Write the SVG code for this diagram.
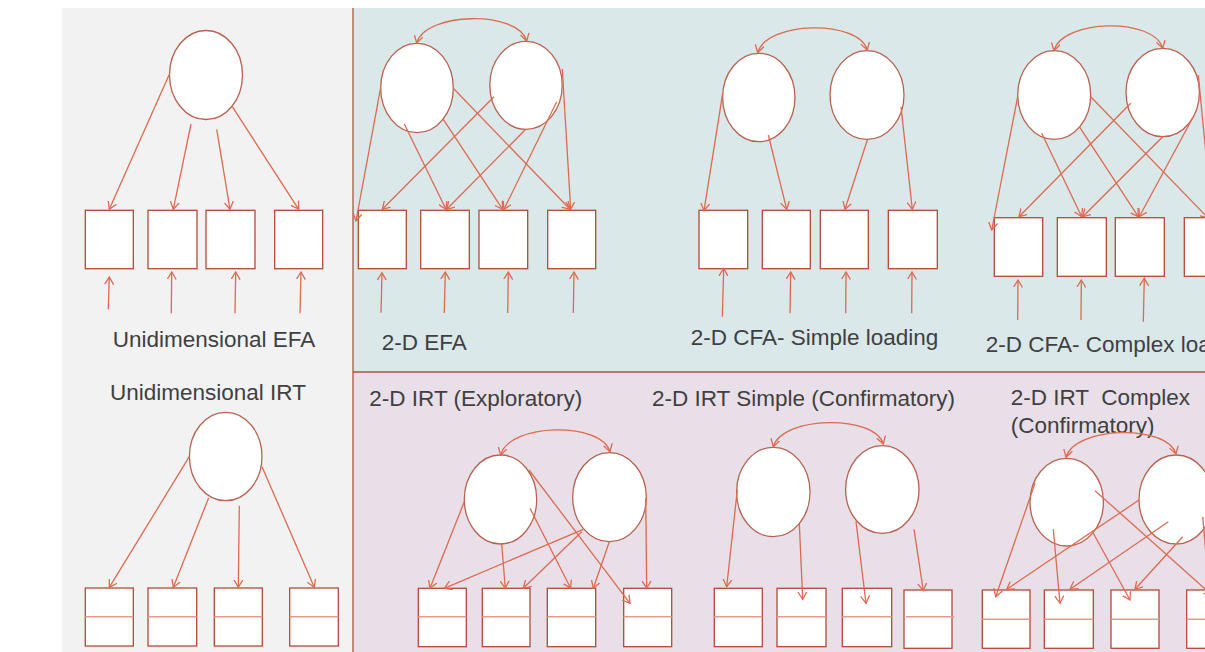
<svg xmlns="http://www.w3.org/2000/svg" width="1205" height="652" viewBox="0 0 1205 652">
<style>
.lat{fill:#fff;stroke:#b8624f;stroke-width:1.3}
.obs{fill:#fff;stroke:#b24a35;stroke-width:1.3}
.mid{stroke:#e8998a;stroke-width:1.6}
.c line,.c path{stroke:#de6a50;stroke-width:1.3;fill:none;marker-end:url(#ah)}
.c path.cov{marker-start:url(#ah)}
.lbl{font-family:"Liberation Sans",Arial,sans-serif;font-size:22.5px;fill:#404040}
.bd{stroke:#b0533d;stroke-width:1.3}
</style>
<defs>
<marker id="ah" viewBox="0 0 10 10" refX="7.5" refY="5" markerWidth="10" markerHeight="10" markerUnits="userSpaceOnUse" orient="auto-start-reverse">
<path d="M0,0.5 L7.5,5 L0,9.5" fill="none" stroke="#de6a50" stroke-width="1.3"/>
</marker>
</defs>
<rect width="1205" height="652" fill="#fff"/>
<g id="panels">
<rect x="62" y="8" width="291" height="644" fill="#f2f2f2"/>
<rect x="353" y="8" width="852" height="364" fill="#dae8ea"/>
<rect x="353" y="372" width="852" height="280" fill="#e8dfe8"/>
<line class="bd" x1="353" y1="8" x2="353" y2="652"/>
<line class="bd" x1="353" y1="372" x2="1205" y2="372"/>
</g>
<g id="labels" class="lbl">
<text x="112.7" y="347">Unidimensional EFA</text>
<text x="110" y="400">Unidimensional IRT</text>
<text x="381.7" y="350">2-D EFA</text>
<text x="690.7" y="345">2-D CFA- Simple loading</text>
<text x="985.7" y="352">2-D CFA- Complex loading</text>
<text x="369.3" y="406">2-D IRT (Exploratory)</text>
<text x="652" y="406">2-D IRT Simple (Confirmatory)</text>
<text x="1010.7" y="405" xml:space="preserve">2-D IRT  Complex</text>
<text x="1010.7" y="433">(Confirmatory)</text>
</g>
<g id="uefa-f"><ellipse class="lat" cx="206" cy="75" rx="36.5" ry="44.5"/></g>
<g id="uefa-i1"><rect class="obs" x="85.3" y="210.3" width="48" height="58.4"/></g>
<g id="uefa-i2"><rect class="obs" x="148" y="210.3" width="49" height="58.4"/></g>
<g id="uefa-i3"><rect class="obs" x="206" y="210.3" width="49" height="58.4"/></g>
<g id="uefa-i4"><rect class="obs" x="274.7" y="210.3" width="48" height="58.4"/></g>
<g id="uirt-f"><ellipse class="lat" cx="225.7" cy="456.5" rx="36.3" ry="44.2"/></g>
<g id="uirt-i1"><rect class="obs" x="85.3" y="588" width="48" height="58"/><line class="mid" x1="85.3" y1="616.7" x2="133.3" y2="616.7"/></g>
<g id="uirt-i2"><rect class="obs" x="148" y="588" width="48.7" height="58"/><line class="mid" x1="148" y1="616.7" x2="196.7" y2="616.7"/></g>
<g id="uirt-i3"><rect class="obs" x="214.3" y="588" width="48" height="58"/><line class="mid" x1="214.3" y1="616.7" x2="262.3" y2="616.7"/></g>
<g id="uirt-i4"><rect class="obs" x="289.7" y="588" width="48.6" height="58"/><line class="mid" x1="289.7" y1="616.7" x2="338.3" y2="616.7"/></g>
<g id="efa-f1"><ellipse class="lat" cx="417" cy="88" rx="36.3" ry="44.7"/></g>
<g id="efa-f2"><ellipse class="lat" cx="526" cy="85.3" rx="36.2" ry="44"/></g>
<g id="efa-i1"><rect class="obs" x="358.3" y="210.3" width="48" height="58.4"/></g>
<g id="efa-i2"><rect class="obs" x="420.7" y="210.3" width="48.6" height="58.4"/></g>
<g id="efa-i3"><rect class="obs" x="479" y="210.3" width="48.7" height="58.4"/></g>
<g id="efa-i4"><rect class="obs" x="547.7" y="210.3" width="48" height="58.4"/></g>
<g id="cfas-f1"><ellipse class="lat" cx="758.8" cy="97.5" rx="36.2" ry="44.2"/></g>
<g id="cfas-f2"><ellipse class="lat" cx="867" cy="95" rx="37" ry="44.3"/></g>
<g id="cfas-i1"><rect class="obs" x="699" y="210.3" width="48.7" height="58.4"/></g>
<g id="cfas-i2"><rect class="obs" x="762.3" y="210.3" width="48" height="58.4"/></g>
<g id="cfas-i3"><rect class="obs" x="820.3" y="210.3" width="48" height="58.4"/></g>
<g id="cfas-i4"><rect class="obs" x="888.3" y="210.3" width="49" height="58.4"/></g>
<g id="cfac-f1"><ellipse class="lat" cx="1054.2" cy="95" rx="36.5" ry="44.3"/></g>
<g id="cfac-f2"><ellipse class="lat" cx="1162.7" cy="92.5" rx="36.7" ry="44.2"/></g>
<g id="cfac-i1"><rect class="obs" x="994.3" y="217.7" width="48.4" height="58.6"/></g>
<g id="cfac-i2"><rect class="obs" x="1057.3" y="217.7" width="49" height="58.6"/></g>
<g id="cfac-i3"><rect class="obs" x="1115.3" y="217.7" width="49" height="58.6"/></g>
<g id="cfac-i4"><rect class="obs" x="1184.3" y="217.7" width="48" height="58.6"/></g>
<g id="irte-f1"><ellipse class="lat" cx="500.5" cy="499.5" rx="36.2" ry="44.5"/></g>
<g id="irte-f2"><ellipse class="lat" cx="609.5" cy="497.2" rx="36.8" ry="44.5"/></g>
<g id="irte-i1"><rect class="obs" x="418.3" y="588.3" width="48" height="58.4"/><line class="mid" x1="418.3" y1="616.7" x2="466.3" y2="616.7"/></g>
<g id="irte-i2"><rect class="obs" x="482.3" y="588.3" width="47.7" height="58.4"/><line class="mid" x1="482.3" y1="616.7" x2="530" y2="616.7"/></g>
<g id="irte-i3"><rect class="obs" x="547.3" y="588.3" width="48.4" height="58.4"/><line class="mid" x1="547.3" y1="616.7" x2="595.7" y2="616.7"/></g>
<g id="irte-i4"><rect class="obs" x="623.7" y="588.3" width="48" height="58.4"/><line class="mid" x1="623.7" y1="616.7" x2="671.7" y2="616.7"/></g>
<g id="irts-f1"><ellipse class="lat" cx="773.3" cy="492" rx="36.7" ry="44.7"/></g>
<g id="irts-f2"><ellipse class="lat" cx="882.3" cy="489.5" rx="36.7" ry="43.8"/></g>
<g id="irts-i1"><rect class="obs" x="714.3" y="588.3" width="48" height="58.4"/><line class="mid" x1="714.3" y1="616.7" x2="762.3" y2="616.7"/></g>
<g id="irts-i2"><rect class="obs" x="777" y="588.3" width="49" height="58.4"/><line class="mid" x1="777" y1="616.7" x2="826" y2="616.7"/></g>
<g id="irts-i3"><rect class="obs" x="842.3" y="588.3" width="49.4" height="58.4"/><line class="mid" x1="842.3" y1="616.7" x2="891.7" y2="616.7"/></g>
<g id="irts-i4"><rect class="obs" x="904" y="590" width="48" height="58.3"/><line class="mid" x1="906" y1="616.7" x2="954.3" y2="616.7"/></g>
<g id="irtc-f1"><ellipse class="lat" cx="1066.7" cy="502.2" rx="36.7" ry="43.8"/></g>
<g id="irtc-f2"><ellipse class="lat" cx="1176" cy="499.5" rx="37" ry="44.5"/></g>
<g id="irtc-i1"><rect class="obs" x="982.3" y="590" width="47.7" height="58.3"/><line class="mid" x1="982.3" y1="619.3" x2="1030" y2="619.3"/></g>
<g id="irtc-i2"><rect class="obs" x="1044.3" y="590" width="49" height="58.3"/><line class="mid" x1="1044.3" y1="619.3" x2="1093.3" y2="619.3"/></g>
<g id="irtc-i3"><rect class="obs" x="1111" y="590" width="48" height="58.3"/><line class="mid" x1="1111" y1="619.3" x2="1159" y2="619.3"/></g>
<g id="irtc-i4"><rect class="obs" x="1186.7" y="590" width="48" height="58.3"/><line class="mid" x1="1186.7" y1="619.3" x2="1234.7" y2="619.3"/></g>
<g id="connectors" class="c">
<line x1="169" y1="75" x2="109.3" y2="209.3"/>
<line x1="191" y1="124" x2="173.3" y2="209.3"/>
<line x1="216.7" y1="129.3" x2="230" y2="209.3"/>
<line x1="232.3" y1="106.7" x2="298.7" y2="209.3"/>
<line x1="108.3" y1="309.3" x2="109.3" y2="277"/>
<line x1="171.3" y1="313.3" x2="171.7" y2="272"/>
<line x1="235" y1="313.3" x2="235.7" y2="272"/>
<line x1="300" y1="313.3" x2="301" y2="272"/>
<line x1="189.3" y1="456.7" x2="109.3" y2="587.3"/>
<line x1="208.7" y1="497.7" x2="173.3" y2="587.3"/>
<line x1="239.3" y1="505.7" x2="238.3" y2="587.3"/>
<line x1="262" y1="466.7" x2="314.3" y2="587.3"/>
<path class="cov" d="M416.7,43 C425,12 518,10 526.7,41"/>
<line x1="380.7" y1="87.3" x2="356" y2="221"/>
<line x1="404.3" y1="124" x2="446" y2="209.3"/>
<line x1="443.3" y1="119.3" x2="502.7" y2="209.3"/>
<line x1="453.3" y1="88.3" x2="570" y2="209.3"/>
<line x1="494" y1="96.7" x2="382.3" y2="209.3"/>
<line x1="525" y1="130" x2="446.7" y2="209.3"/>
<line x1="556.7" y1="101.7" x2="504" y2="209.3"/>
<line x1="562.3" y1="69" x2="570.7" y2="209.3"/>
<line x1="381" y1="312.7" x2="382" y2="272.7"/>
<line x1="444.3" y1="313" x2="445.3" y2="272"/>
<line x1="507.7" y1="313" x2="508.3" y2="272"/>
<line x1="573.3" y1="313" x2="574" y2="272"/>
<path class="cov" d="M757.7,52.7 C766,21 858,19 867.3,50"/>
<line x1="722.7" y1="93.3" x2="704" y2="210.7"/>
<line x1="768.3" y1="135" x2="786.7" y2="209.3"/>
<line x1="867.3" y1="140" x2="845" y2="209.3"/>
<line x1="901" y1="106.7" x2="912.3" y2="209.3"/>
<line x1="722.3" y1="316.7" x2="723.7" y2="268.5"/>
<line x1="790" y1="313.3" x2="790.7" y2="272"/>
<line x1="845.7" y1="313.3" x2="846" y2="272"/>
<line x1="911.7" y1="313.3" x2="912" y2="272"/>
<path class="cov" d="M1054,50.7 C1062,19 1154,17 1162.7,48.3"/>
<line x1="1017.7" y1="96.7" x2="991.7" y2="230"/>
<line x1="1041.7" y1="133.3" x2="1081.7" y2="216.7"/>
<line x1="1079.3" y1="126.7" x2="1138.3" y2="216.7"/>
<line x1="1090.7" y1="96.7" x2="1208" y2="218"/>
<line x1="1130.7" y1="103.3" x2="1019" y2="216.7"/>
<line x1="1162.7" y1="136.7" x2="1082.7" y2="216.7"/>
<line x1="1193.3" y1="116.7" x2="1139.3" y2="216.7"/>
<line x1="1198.3" y1="75" x2="1212" y2="216"/>
<line x1="1017.7" y1="320" x2="1018" y2="280"/>
<line x1="1081" y1="320" x2="1081.3" y2="280"/>
<line x1="1143.3" y1="321.7" x2="1144.3" y2="278.3"/>
<path class="cov" d="M500.7,455 C509,423 601,421 610,451.7"/>
<line x1="464.3" y1="501.7" x2="430" y2="588.3"/>
<line x1="501.7" y1="544" x2="505.3" y2="588.3"/>
<line x1="530" y1="508.3" x2="570.7" y2="588.3"/>
<line x1="529" y1="470" x2="630" y2="603.3"/>
<line x1="583.3" y1="529.3" x2="444.3" y2="588.3"/>
<line x1="581.7" y1="531.7" x2="523.3" y2="588.3"/>
<line x1="609.3" y1="541.7" x2="593.3" y2="588.3"/>
<line x1="645.7" y1="498.3" x2="646.7" y2="588.3"/>
<path class="cov" d="M773.3,446.7 C782,416 874,414 883.3,444"/>
<line x1="737.3" y1="490" x2="726.7" y2="586.7"/>
<line x1="799.3" y1="523.3" x2="802.7" y2="599.3"/>
<line x1="856" y1="521.7" x2="866" y2="603.3"/>
<line x1="914" y1="529.3" x2="923.3" y2="590.7"/>
<path class="cov" d="M1066,457.3 C1075,426 1167,424 1176,454"/>
<line x1="1035" y1="483.3" x2="995.7" y2="596.7"/>
<line x1="1053.3" y1="529.3" x2="1060" y2="603.3"/>
<line x1="1093.3" y1="533.3" x2="1130" y2="600"/>
<line x1="1095" y1="490.7" x2="1212" y2="595"/>
<line x1="1139" y1="500" x2="1006.7" y2="589.3"/>
<line x1="1168.3" y1="521.7" x2="1070" y2="589.3"/>
<line x1="1182.7" y1="536.7" x2="1135" y2="589.3"/>
<line x1="1202.7" y1="516.7" x2="1210" y2="600"/>
</g>
</svg>
